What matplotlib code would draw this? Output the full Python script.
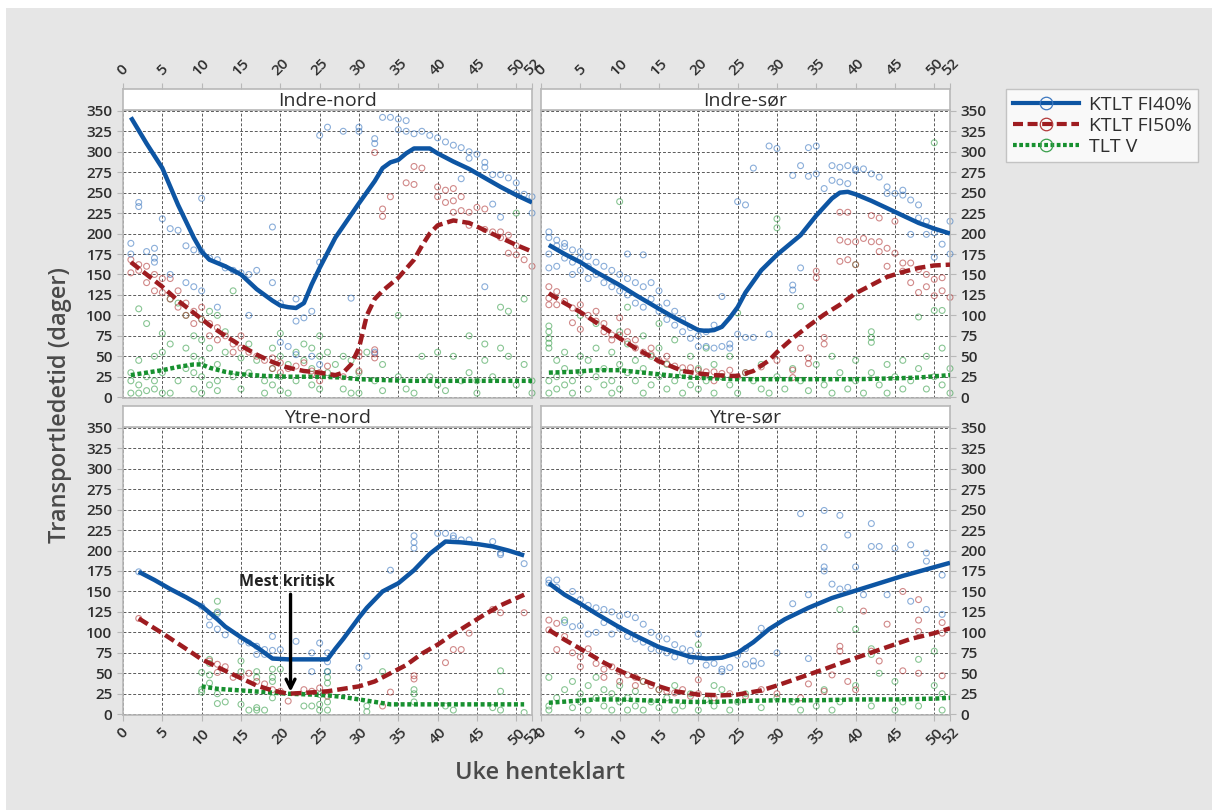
import matplotlib
matplotlib.use("Agg")
import matplotlib.pyplot as plt
from matplotlib.lines import Line2D
from matplotlib.patches import Rectangle

plt.rcParams['font.family'] = ['Open Sans', 'DejaVu Sans']

# ---- data (week, days) ----
PANELS = ["Indre-nord", "Indre-sør", "Ytre-nord", "Ytre-sør"]
SERIES = ["KTLT FI40%", "KTLT FI50%", "TLT V"]
XTICKS = [0, 5, 10, 15, 20, 25, 30, 35, 40, 45, 50, 52]
YTICKS = list(range(0, 351, 25))

IN_BLUE_PTS = [(1, 188), (1, 175), (2, 238), (2, 233), (3, 178), (4, 182), (4, 170), (4, 165), (5, 218),
               (6, 206), (6, 150), (7, 204), (8, 185), (8, 140), (9, 180), (9, 135), (10, 243), (10, 178),
               (10, 130), (11, 170), (12, 168), (12, 110), (13, 158), (14, 155), (15, 152), (16, 150),
               (16, 100), (17, 155), (19, 208), (19, 140), (20, 115), (20, 67), (21, 62), (22, 120), (22, 93),
               (23, 97), (24, 105), (24, 50), (25, 165), (25, 40), (25, 320), (26, 330), (28, 325), (30, 325),
               (30, 330), (32, 316), (32, 310), (33, 342), (34, 342), (35, 340), (35, 327), (36, 338), (36, 325),
               (37, 322), (38, 325), (39, 320), (40, 317), (41, 312), (42, 308), (43, 305), (43, 267), (44, 300),
               (44, 292), (45, 297), (46, 287), (46, 281), (47, 272), (47, 236), (48, 272), (48, 220), (49, 268),
               (50, 262), (50, 250), (51, 248), (52, 245), (52, 225), (46, 135), (29, 121), (32, 55), (22, 52)]
IN_RED_PTS = [(1, 152), (1, 168), (2, 162), (2, 155), (3, 160), (3, 140), (4, 150), (4, 130), (5, 128), (5, 145),
              (6, 145), (6, 120), (7, 110), (7, 130), (8, 100), (8, 115), (9, 105), (9, 90), (10, 95), (10, 110),
              (11, 90), (11, 75), (12, 85), (12, 70), (13, 75), (14, 65), (14, 55), (15, 60), (15, 75), (16, 55),
              (17, 50), (18, 45), (19, 48), (19, 35), (20, 30), (20, 42), (21, 35), (22, 38), (23, 42), (24, 32),
              (24, 28), (25, 30), (25, 20), (26, 38), (28, 25), (30, 55), (30, 50), (30, 32), (32, 58), (32, 53),
              (32, 48), (32, 299), (33, 230), (33, 221), (34, 245), (36, 262), (37, 260), (37, 282), (38, 280),
              (40, 257), (41, 253), (42, 255), (40, 245), (41, 238), (42, 240), (43, 245), (42, 226), (43, 228),
              (44, 226), (45, 232), (46, 230), (46, 205), (47, 202), (48, 202), (49, 198), (49, 176), (50, 174),
              (51, 168), (52, 160), (48, 195), (50, 185), (44, 210)]
IN_GREEN_PTS = [(1, 5), (1, 20), (1, 30), (2, 108), (2, 45), (2, 15), (2, 5), (3, 90), (3, 25), (3, 8), (4, 50),
                (4, 20), (4, 10), (5, 55), (5, 78), (5, 30), (5, 5), (6, 120), (6, 65), (6, 5), (7, 115), (7, 20),
                (8, 100), (8, 60), (8, 35), (9, 75), (9, 50), (9, 30), (9, 10), (10, 95), (10, 70), (10, 45),
                (10, 25), (10, 5), (11, 105), (11, 60), (11, 15), (12, 100), (12, 40), (12, 20), (12, 8), (13, 80),
                (13, 55), (14, 130), (14, 25), (15, 48), (15, 10), (16, 65), (16, 30), (17, 45), (18, 20), (18, 5),
                (19, 60), (19, 35), (19, 15), (20, 78), (20, 50), (20, 25), (20, 8), (21, 40), (21, 5), (22, 55),
                (22, 20), (23, 65), (23, 45), (24, 60), (24, 35), (24, 15), (25, 75), (25, 50), (25, 10), (26, 55),
                (26, 30), (27, 40), (28, 50), (28, 10), (29, 45), (29, 5), (30, 30), (30, 5), (31, 55), (32, 20),
                (33, 40), (33, 8), (35, 100), (35, 25), (36, 10), (37, 5), (38, 50), (39, 25), (40, 55), (40, 15),
                (41, 8), (42, 50), (43, 20), (44, 75), (44, 30), (45, 20), (45, 5), (46, 65), (46, 45), (47, 25),
                (48, 60), (48, 110), (49, 50), (49, 105), (50, 225), (50, 15), (51, 120), (51, 40), (52, 20), (52, 5)]
IN_BLUE_LINE = [(1, 342), (3, 310), (5, 280), (7, 235), (9, 195), (10, 178), (11, 168), (13, 160), (15, 150),
                (17, 132), (19, 118), (20, 112), (21, 110), (22, 109), (23, 115), (24, 138), (25, 158), (27, 195),
                (30, 237), (32, 264), (33, 280), (34, 287), (35, 290), (36, 298), (37, 304), (39, 304), (40, 298),
                (42, 288), (44, 279), (46, 268), (48, 257), (50, 247), (52, 238)]
IN_RED_LINE = [(1, 165), (3, 150), (5, 135), (7, 118), (9, 103), (11, 88), (13, 75), (15, 63), (17, 52), (19, 43),
               (21, 36), (23, 32), (25, 30), (27, 27), (28, 30), (29, 40), (30, 60), (31, 100), (32, 120), (33, 130),
               (35, 146), (37, 168), (38, 185), (39, 200), (40, 210), (42, 216), (44, 213), (46, 204), (48, 195),
               (50, 186), (52, 178)]
IN_GREEN_LINE = [(1, 27), (3, 30), (5, 33), (7, 37), (9, 40), (10, 40), (11, 36), (13, 31), (15, 28), (18, 26),
                 (21, 25), (25, 25), (28, 24), (30, 22), (33, 21), (36, 20), (40, 20), (45, 20), (50, 20), (52, 20)]

IS_BLUE_PTS = [(1, 202), (1, 195), (1, 158), (1, 175), (2, 192), (2, 185), (2, 160), (3, 188), (3, 184), (3, 170),
               (4, 180), (4, 165), (4, 150), (5, 178), (5, 170), (5, 155), (6, 172), (6, 160), (6, 145), (7, 165),
               (7, 150), (8, 160), (8, 140), (9, 155), (9, 135), (10, 150), (10, 130), (11, 175), (11, 145),
               (11, 125), (12, 140), (12, 115), (13, 174), (13, 135), (13, 110), (14, 140), (14, 120), (15, 130),
               (15, 110), (15, 105), (16, 115), (16, 95), (17, 105), (17, 88), (18, 80), (18, 95), (19, 72),
               (19, 85), (20, 62), (20, 75), (21, 62), (21, 80), (22, 60), (22, 88), (23, 62), (23, 123), (24, 65),
               (24, 60), (25, 239), (25, 77), (26, 73), (26, 235), (27, 73), (27, 280), (29, 77), (29, 307),
               (30, 304), (32, 137), (32, 131), (32, 271), (33, 158), (33, 283), (34, 270), (34, 305), (35, 273),
               (35, 307), (36, 255), (37, 283), (37, 265), (38, 281), (38, 263), (39, 283), (39, 261), (40, 279),
               (40, 277), (41, 279), (42, 273), (43, 269), (44, 257), (44, 249), (45, 249), (46, 247), (46, 253),
               (47, 241), (47, 199), (48, 235), (48, 219), (49, 215), (49, 199), (50, 201), (50, 171), (51, 187),
               (52, 175), (52, 215)]
IS_RED_PTS = [(1, 135), (1, 113), (1, 121), (2, 129), (2, 113), (3, 117), (4, 109), (4, 91), (5, 113), (5, 83),
              (6, 100), (7, 105), (7, 93), (8, 80), (8, 90), (9, 76), (9, 70), (10, 97), (10, 76), (11, 68),
              (11, 80), (12, 60), (12, 70), (13, 55), (14, 52), (14, 60), (15, 45), (16, 41), (16, 50), (17, 38),
              (18, 36), (19, 36), (20, 33), (20, 25), (21, 31), (22, 31), (22, 20), (23, 29), (24, 33), (25, 25),
              (26, 30), (28, 37), (30, 45), (32, 33), (32, 24), (33, 60), (34, 48), (34, 41), (35, 154), (35, 146),
              (36, 73), (36, 65), (38, 226), (38, 192), (38, 166), (39, 226), (39, 190), (39, 168), (40, 190),
              (40, 162), (41, 194), (42, 190), (42, 222), (43, 190), (43, 219), (43, 178), (44, 182), (44, 160),
              (45, 215), (45, 176), (46, 164), (46, 154), (47, 164), (47, 140), (48, 156), (48, 128), (49, 150),
              (49, 135), (50, 144), (50, 124), (51, 146), (51, 130), (52, 122)]
IS_GREEN_PTS = [(1, 5), (1, 20), (1, 60), (1, 66), (1, 72), (1, 80), (1, 87), (2, 10), (2, 25), (2, 45), (3, 15),
                (3, 35), (3, 55), (4, 5), (4, 20), (5, 30), (5, 50), (5, 100), (6, 10), (6, 45), (7, 25), (7, 60),
                (7, 90), (8, 15), (8, 35), (9, 5), (9, 20), (9, 55), (10, 239), (10, 80), (10, 40), (10, 10),
                (11, 30), (11, 65), (11, 110), (12, 20), (12, 45), (13, 5), (13, 35), (13, 75), (14, 15), (14, 50),
                (15, 25), (15, 60), (15, 90), (16, 10), (16, 40), (17, 20), (17, 70), (18, 5), (18, 30), (19, 15),
                (19, 50), (20, 10), (20, 35), (21, 20), (21, 60), (22, 5), (22, 40), (23, 25), (24, 15), (24, 50),
                (25, 5), (25, 103), (26, 30), (27, 20), (28, 10), (28, 40), (29, 5), (30, 218), (30, 207), (30, 25),
                (31, 10), (32, 35), (33, 111), (33, 20), (34, 8), (35, 40), (36, 15), (37, 5), (37, 50), (38, 30),
                (39, 10), (40, 162), (40, 45), (40, 20), (41, 5), (42, 80), (42, 73), (42, 67), (42, 30), (43, 15),
                (44, 5), (44, 40), (45, 25), (46, 10), (46, 45), (47, 20), (48, 98), (48, 35), (49, 10), (49, 50),
                (50, 311), (50, 106), (50, 25), (51, 106), (51, 60), (51, 15), (52, 5), (52, 35)]
IS_BLUE_LINE = [(1, 186), (3, 175), (5, 165), (7, 153), (10, 137), (12, 125), (15, 108), (17, 97), (18, 92),
                (20, 82), (21, 81), (22, 82), (23, 86), (24, 97), (25, 110), (26, 128), (28, 155), (30, 174),
                (32, 190), (33, 198), (35, 222), (37, 243), (38, 250), (39, 251), (40, 248), (42, 240), (44, 231),
                (46, 222), (48, 213), (50, 206), (52, 200)]
IS_RED_LINE = [(1, 127), (3, 115), (5, 104), (8, 85), (10, 72), (12, 60), (15, 44), (18, 32), (20, 29), (22, 27),
               (24, 26), (25, 26), (27, 32), (29, 45), (30, 55), (32, 72), (34, 87), (36, 101), (38, 113), (40, 127),
               (42, 137), (44, 147), (46, 153), (48, 158), (50, 161), (52, 162)]
IS_GREEN_LINE = [(1, 30), (4, 31), (7, 33), (10, 33), (13, 30), (16, 27), (19, 24), (22, 23), (25, 22), (30, 22),
                 (35, 22), (40, 22), (45, 23), (48, 24), (52, 27)]

YN_BLUE_PTS = [(2, 174), (10, 132), (11, 119), (11, 109), (12, 123), (12, 104), (13, 97), (15, 89), (16, 87),
               (17, 83), (17, 73), (18, 79), (18, 73), (19, 95), (19, 78), (20, 79), (22, 89), (24, 75), (24, 52),
               (25, 87), (26, 75), (26, 64), (26, 52), (30, 57), (31, 71), (34, 176), (37, 218), (37, 210),
               (37, 203), (40, 221), (41, 221), (42, 215), (42, 218), (43, 213), (44, 213), (47, 211), (48, 197),
               (48, 195), (51, 184)]
YN_RED_PTS = [(2, 117), (11, 65), (12, 61), (12, 51), (13, 58), (14, 45), (15, 46), (16, 50), (17, 40), (18, 37),
              (19, 30), (20, 28), (21, 16), (23, 30), (24, 28), (25, 32), (26, 22), (33, 10), (34, 27), (37, 47),
              (37, 43), (41, 63), (42, 79), (43, 79), (44, 99), (47, 128), (48, 124), (51, 124)]
YN_GREEN_PTS = [(10, 51), (10, 27), (10, 30), (11, 67), (11, 62), (11, 48), (11, 38), (12, 138), (12, 125),
                (12, 25), (12, 13), (13, 15), (15, 65), (15, 52), (15, 12), (16, 5), (17, 52), (17, 45), (17, 8),
                (17, 5), (18, 5), (19, 55), (19, 45), (19, 40), (19, 20), (20, 55), (23, 10), (24, 10), (25, 24),
                (25, 12), (25, 5), (26, 52), (26, 45), (26, 38), (26, 15), (26, 5), (31, 3), (31, 10), (33, 52),
                (37, 30), (37, 25), (37, 15), (41, 10), (42, 5), (47, 8), (48, 53), (48, 28), (48, 5), (51, 2)]
YN_BLUE_LINE = [(2, 174), (4, 164), (6, 153), (8, 143), (10, 132), (12, 116), (13, 107), (15, 94), (17, 82),
                (18, 75), (19, 68), (21, 67), (23, 67), (26, 67), (27, 80), (28, 92), (30, 118), (31, 130),
                (33, 150), (35, 160), (37, 176), (39, 196), (41, 211), (43, 210), (45, 208), (47, 205), (49, 200),
                (51, 194)]
YN_RED_LINE = [(2, 117), (5, 99), (8, 80), (10, 67), (13, 53), (15, 44), (17, 35), (19, 29), (21, 25), (23, 26),
               (26, 28), (28, 31), (30, 34), (32, 40), (34, 50), (36, 60), (38, 74), (40, 85), (42, 98), (44, 110),
               (46, 122), (48, 133), (51, 146)]
YN_GREEN_LINE = [(10, 34), (12, 31), (15, 29), (18, 27), (21, 25), (24, 24), (26, 23), (28, 21), (30, 18),
                 (32, 15), (34, 12), (38, 12), (42, 12), (46, 12), (51, 12)]

YS_BLUE_PTS = [(1, 164), (1, 160), (2, 164), (2, 155), (3, 112), (4, 107), (4, 150), (5, 140), (5, 108), (6, 133),
               (6, 98), (7, 130), (7, 100), (8, 128), (8, 112), (9, 125), (9, 98), (10, 120), (10, 105), (11, 122),
               (11, 95), (12, 118), (12, 92), (13, 110), (13, 88), (14, 100), (14, 80), (15, 95), (15, 78),
               (16, 92), (16, 75), (17, 85), (17, 70), (18, 80), (19, 78), (19, 65), (20, 98), (20, 72), (21, 60),
               (22, 62), (23, 55), (23, 52), (24, 57), (25, 72), (26, 61), (26, 80), (27, 59), (27, 65), (28, 62),
               (28, 105), (30, 75), (32, 135), (33, 245), (34, 146), (34, 68), (36, 249), (36, 204), (36, 180),
               (36, 175), (37, 159), (38, 153), (38, 243), (39, 155), (39, 219), (40, 180), (41, 146), (42, 233),
               (42, 205), (43, 205), (44, 146), (45, 203), (47, 207), (47, 138), (49, 197), (49, 187), (49, 128),
               (51, 170), (51, 122)]
YS_RED_PTS = [(1, 115), (1, 103), (2, 111), (2, 79), (3, 95), (4, 75), (5, 70), (5, 58), (6, 80), (7, 62), (8, 55),
              (8, 45), (9, 58), (10, 52), (10, 40), (11, 48), (12, 45), (12, 35), (13, 40), (14, 35), (15, 30),
              (16, 28), (17, 26), (18, 30), (19, 22), (20, 42), (20, 25), (22, 20), (24, 25), (26, 22), (28, 30),
              (30, 25), (33, 20), (34, 37), (36, 28), (37, 48), (38, 83), (38, 77), (39, 40), (40, 30), (41, 126),
              (42, 77), (43, 65), (44, 110), (46, 150), (46, 53), (48, 140), (48, 115), (48, 101), (48, 50),
              (51, 112), (51, 99), (51, 47)]
YS_GREEN_PTS = [(1, 5), (1, 10), (1, 45), (2, 20), (3, 115), (3, 30), (4, 8), (4, 40), (5, 25), (5, 15), (6, 5),
                (6, 35), (7, 20), (7, 45), (8, 10), (8, 30), (9, 5), (9, 25), (10, 15), (10, 35), (11, 5), (11, 20),
                (12, 10), (12, 28), (13, 5), (13, 40), (14, 15), (15, 8), (15, 30), (16, 20), (17, 5), (17, 35),
                (18, 10), (19, 25), (20, 85), (20, 5), (21, 18), (22, 35), (22, 10), (23, 30), (24, 5), (25, 15),
                (26, 25), (28, 8), (30, 20), (32, 15), (33, 5), (35, 10), (36, 30), (37, 5), (38, 128), (38, 15),
                (40, 104), (40, 35), (42, 80), (42, 73), (42, 10), (43, 50), (45, 40), (45, 5), (46, 15), (48, 67),
                (48, 10), (50, 77), (50, 35), (51, 25), (51, 5)]
YS_BLUE_LINE = [(1, 160), (3, 146), (5, 135), (7, 123), (10, 106), (12, 96), (15, 82), (17, 76), (19, 70), (21, 68),
                (23, 69), (25, 75), (27, 88), (29, 104), (31, 116), (34, 130), (37, 142), (40, 151), (43, 160),
                (46, 169), (49, 177), (52, 185)]
YS_RED_LINE = [(1, 103), (3, 91), (5, 80), (8, 63), (10, 53), (12, 45), (15, 34), (17, 28), (20, 24), (23, 23),
               (25, 24), (28, 29), (30, 35), (33, 45), (36, 55), (38, 62), (41, 72), (44, 82), (47, 92), (50, 99),
               (52, 105)]
YS_GREEN_LINE = [(1, 14), (4, 16), (7, 18), (10, 18), (13, 17), (16, 16), (19, 15), (22, 15), (25, 16), (30, 17),
                 (35, 17), (40, 18), (45, 18), (50, 19), (52, 20)]

# ---- styles ----
LINE_COLORS = ["#0d55a3", "#9e1c20", "#17902f"]
PT_COLORS = ["#3d78c0", "#b23a3a", "#3a9f4c"]
LINE_STYLES = ["-", (0, (2.4, 1.1)), (0, (0.9, 0.6))]
TXT = "#2e2e2e"
EDGE = "#b8b8b8"

W, H = 1212, 810
fig = plt.figure(figsize=(W / 100, H / 100), dpi=100, facecolor="#e6e6e6")
fig.patches.append(Rectangle((0, 1 - 8 / H), 1, 8 / H, transform=fig.transFigure,
                             facecolor="white", edgecolor="none", zorder=-5))
fig.patches.append(Rectangle((0, 0), 6 / W, 1, transform=fig.transFigure,
                             facecolor="white", edgecolor="none", zorder=-5))

# pixel boxes of the four panels: (left, plot_top, plot_bottom)
lefts = [123, 541, 123, 541]
tops = [110, 110, 427, 427]
bottoms = [398, 398, 715, 715]
pw = 409
strip_h = 21

data = [
    (IN_BLUE_PTS, IN_RED_PTS, IN_GREEN_PTS, IN_BLUE_LINE, IN_RED_LINE, IN_GREEN_LINE),
    (IS_BLUE_PTS, IS_RED_PTS, IS_GREEN_PTS, IS_BLUE_LINE, IS_RED_LINE, IS_GREEN_LINE),
    (YN_BLUE_PTS, YN_RED_PTS, YN_GREEN_PTS, YN_BLUE_LINE, YN_RED_LINE, YN_GREEN_LINE),
    (YS_BLUE_PTS, YS_RED_PTS, YS_GREEN_PTS, YS_BLUE_LINE, YS_RED_LINE, YS_GREEN_LINE),
]

for i, name in enumerate(PANELS):
    l, t, b = lefts[i], tops[i], bottoms[i]
    ax = fig.add_axes([l / W, 1 - b / H, pw / W, (b - t) / H])
    ax.set_facecolor("white")
    ax.set_xlim(0, 52)
    ax.set_ylim(-1, 351)
    ax.set_xticks(XTICKS)
    ax.set_yticks(YTICKS)
    ax.grid(True, color="#5a5a5a", linestyle=(0, (3, 2)), linewidth=0.7)
    ax.set_axisbelow(True)
    for sp in ax.spines.values():
        sp.set_color(EDGE)
        sp.set_linewidth(1.2)
    ax.tick_params(colors=EDGE, labelcolor=TXT, labelsize=11, length=4)

    pts_sets = data[i][:3]
    line_sets = data[i][3:]
    # scatter first (green at back), then smoothers
    for k in [2, 1, 0]:
        xs, ys = zip(*pts_sets[k])
        ax.scatter(xs, ys, s=18, facecolors="none", edgecolors=PT_COLORS[k],
                   linewidths=0.8, alpha=0.6, clip_on=False, zorder=2)
    for k in [2, 1, 0]:
        xs, ys = zip(*line_sets[k])
        ax.plot(xs, ys, color=LINE_COLORS[k], linestyle=LINE_STYLES[k], lw=3.2,
                solid_capstyle="butt", dash_capstyle="butt", zorder=3)

    # y labels on outer sides
    if i % 2 == 1:
        ax.yaxis.tick_right()
    for lab in ax.get_yticklabels():
        lab.set_fontweight("semibold")
    # x labels only on bottom row
    if i < 2:
        ax.tick_params(axis="x", labelbottom=False, length=0)
    else:
        for lab in ax.get_xticklabels():
            lab.set_rotation(45)
            lab.set_ha("center")
            lab.set_va("top")
            lab.set_fontweight("semibold")

    # strip header
    sax = fig.add_axes([l / W, 1 - t / H, pw / W, strip_h / H])
    sax.set_facecolor("white")
    sax.set_xlim(0, 52)
    sax.set_yticks([])
    for sp in sax.spines.values():
        sp.set_color(EDGE)
        sp.set_linewidth(1.2)
    sax.text(0.5, 0.45, name, transform=sax.transAxes, ha="center", va="center",
             fontsize=14, color=TXT)
    if i < 2:
        sax.xaxis.tick_top()
        sax.set_xticks(XTICKS)
        sax.tick_params(axis="x", colors=EDGE, labelcolor=TXT, labelsize=11, length=4)
        for lab in sax.get_xticklabels():
            lab.set_rotation(45)
            lab.set_ha("center")
            lab.set_va("bottom")
            lab.set_fontweight("semibold")
    else:
        sax.set_xticks([])

    if name == "Ytre-nord":
        ax.annotate("", xy=(21.3, 24), xytext=(21.3, 150),
                    arrowprops=dict(arrowstyle="->", lw=2.4, color="black",
                                    mutation_scale=16), zorder=5)
        ax.text(20.9, 161, "Mest kritisk", ha="center", va="center",
                fontsize=11.5, fontweight="bold", color="#222222", zorder=5)

# legend
handles = [Line2D([0], [0], color=LINE_COLORS[k], linestyle=LINE_STYLES[k], lw=3,
                  marker="o", markersize=9, markerfacecolor="none",
                  markeredgecolor=PT_COLORS[k], markeredgewidth=0.9)
           for k in range(3)]
leg = fig.legend(handles, SERIES, loc="upper left", bbox_to_anchor=(1006 / W, 1 - 89 / H),
                 borderaxespad=0, frameon=True, fancybox=False, edgecolor=EDGE, fontsize=14,
                 handlelength=3.4, borderpad=0.35, labelspacing=0.15, handletextpad=0.5)
leg.get_frame().set_linewidth(1.0)
for txt in leg.get_texts():
    txt.set_color(TXT)

fig.text(60 / W, 1 - 405 / H, "Transportledetid (dager)", rotation=90, ha="center",
         va="center", fontsize=17, fontweight="semibold", color="#4a4a4a")
fig.text(540 / W, 1 - 773 / H, "Uke henteklart", ha="center", va="center",
         fontsize=17, fontweight="semibold", color="#4a4a4a")

fig.savefig("out.png", dpi=100, facecolor=fig.get_facecolor())
